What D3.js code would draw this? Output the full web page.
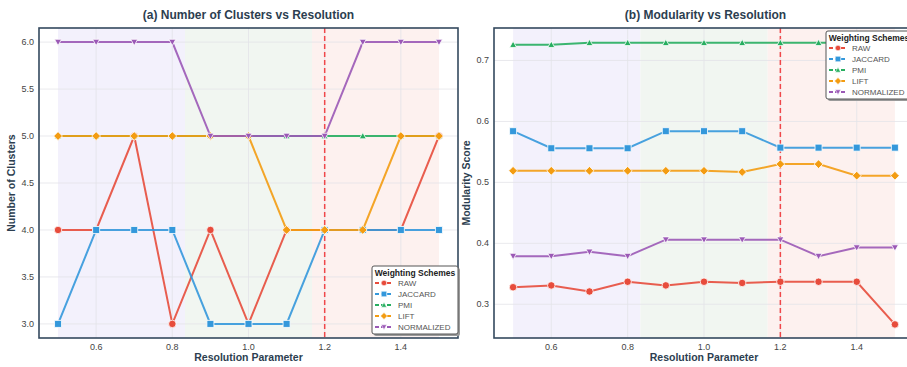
<!DOCTYPE html>
<html>
<head>
<meta charset="utf-8">
<script src="https://cdn.jsdelivr.net/npm/d3@7"></script>
<style>
  body { margin: 0; background: #fff; }
  svg { display: block; font-family: "Liberation Sans", Arial, sans-serif; }
</style>
</head>
<body>
<svg id="chart" width="907" height="367"></svg>
<script>
const resolution = [0.5, 0.6, 0.7, 0.8, 0.9, 1.0, 1.1, 1.2, 1.3, 1.4, 1.5];
const schemes = ["RAW", "JACCARD", "PMI", "LIFT", "NORMALIZED"];
const colors = ["#e74c3c", "#3498db", "#27ae60", "#f39c12", "#9b59b6"];
const markers = ["circle", "square", "triUp", "diamond", "triDown"];

const clusters = {
  RAW:        [4, 4, 5, 3, 4, 3, 4, 4, 4, 4, 5],
  JACCARD:    [3, 4, 4, 4, 3, 3, 3, 4, 4, 4, 4],
  PMI:        [5, 5, 5, 5, 5, 5, 5, 5, 5, 5, 5],
  LIFT:       [5, 5, 5, 5, 5, 5, 4, 4, 4, 5, 5],
  NORMALIZED: [6, 6, 6, 6, 5, 5, 5, 5, 6, 6, 6]
};
const modularity = {
  RAW:        [0.328, 0.331, 0.321, 0.337, 0.331, 0.337, 0.335, 0.337, 0.337, 0.337, 0.267],
  JACCARD:    [0.584, 0.556, 0.556, 0.556, 0.584, 0.584, 0.584, 0.557, 0.557, 0.557, 0.557],
  PMI:        [0.726, 0.726, 0.729, 0.729, 0.729, 0.729, 0.729, 0.729, 0.729, 0.729, 0.729],
  LIFT:       [0.519, 0.519, 0.519, 0.519, 0.519, 0.519, 0.517, 0.530, 0.530, 0.511, 0.511],
  NORMALIZED: [0.379, 0.379, 0.386, 0.379, 0.406, 0.406, 0.406, 0.406, 0.379, 0.393, 0.393]
};
const bands = [[0.5, 0.8333, "#f3f1fc"], [0.8333, 1.1667, "#f1f6f1"], [1.1667, 1.5, "#fdf1ef"]];
const optimal = 1.2;
const xTicks = [0.6, 0.8, 1.0, 1.2, 1.4];

const svg = d3.select("#chart");
const dark = "#2c3e50";

function markerPath(type, s) {
  const r = s / 2;
  if (type === "circle") return d3.symbol(d3.symbolCircle, Math.PI * r * r)();
  if (type === "square") return `M${-r},${-r}H${r}V${r}H${-r}Z`;
  if (type === "diamond") { const q = r * 1.25; return `M0,${-q}L${q},0L0,${q}L${-q},0Z`; }
  if (type === "triUp") return `M0,${-r}L${r},${r * 0.8}L${-r},${r * 0.8}Z`;
  return `M0,${r}L${r},${-r * 0.8}L${-r},${-r * 0.8}Z`;
}

function panel(opts) {
  const { left, right, top, bottom, data, yDomain, yTicks, yFmt, title, ylab, legend } = opts;
  const x = d3.scaleLinear().domain([0.45, 1.55]).range([left, right]);
  const y = d3.scaleLinear().domain(yDomain).range([bottom, top]);
  const g = svg.append("g");

  bands.forEach(b => {
    g.append("rect").attr("x", x(b[0])).attr("y", top).attr("width", x(b[1]) - x(b[0]))
      .attr("height", bottom - top).attr("fill", b[2]);
  });

  // grid
  g.append("g").selectAll("line").data(xTicks).join("line")
    .attr("x1", d => x(d)).attr("x2", d => x(d)).attr("y1", top).attr("y2", bottom)
    .attr("stroke", "#e3e3e8").attr("stroke-width", 0.8);
  g.append("g").selectAll("line").data(yTicks).join("line")
    .attr("x1", left).attr("x2", right).attr("y1", d => y(d)).attr("y2", d => y(d))
    .attr("stroke", "#e3e3e8").attr("stroke-width", 0.8);

  g.append("line").attr("x1", x(optimal)).attr("x2", x(optimal)).attr("y1", top).attr("y2", bottom)
    .attr("stroke", "#f0474a").attr("stroke-width", 1.5).attr("stroke-dasharray", "5,3");

  const line = d3.line().x((d, i) => x(resolution[i])).y(d => y(d));
  schemes.forEach((s, k) => {
    g.append("path").datum(data[s]).attr("d", line).attr("fill", "none")
      .attr("stroke", colors[k]).attr("stroke-width", 2).attr("stroke-opacity", 0.9);
    g.append("g").selectAll("path").data(data[s]).join("path")
      .attr("transform", (d, i) => `translate(${x(resolution[i])},${y(d)})`)
      .attr("d", markerPath(markers[k], markers[k] === "circle" ? 7.5 : 7))
      .attr("fill", colors[k]).attr("stroke", "#fff").attr("stroke-width", 0.8);
  });

  // frame
  g.append("rect").attr("x", left).attr("y", top).attr("width", right - left).attr("height", bottom - top)
    .attr("fill", "none").attr("stroke", "#34495e").attr("stroke-width", 1.6);

  // axes text
  g.append("g").selectAll("text").data(xTicks).join("text")
    .attr("x", d => x(d)).attr("y", bottom + 11.5).attr("text-anchor", "middle")
    .attr("font-size", 9).attr("fill", "#444").text(d => d.toFixed(1));
  g.append("g").selectAll("text").data(yTicks).join("text")
    .attr("x", left - 5).attr("y", d => y(d) + 3).attr("text-anchor", "end")
    .attr("font-size", 9).attr("fill", "#444").text(yFmt);

  g.append("text").attr("x", (left + Math.min(right, 907)) / 2 + (right > 907 ? 5 : 0)).attr("y", 19)
    .attr("text-anchor", "middle").attr("font-size", 12).attr("font-weight", "bold")
    .attr("fill", dark).text(title);
  g.append("text").attr("x", x(1.0)).attr("y", 361).attr("text-anchor", "middle")
    .attr("font-size", 10.5).attr("font-weight", "bold").attr("fill", dark).text("Resolution Parameter");
  g.append("text").attr("transform", `translate(${left - 24},${(top + bottom) / 2}) rotate(-90)`)
    .attr("text-anchor", "middle").attr("font-size", 10.5).attr("font-weight", "bold")
    .attr("fill", dark).text(ylab);

  // legend
  const lg = g.append("g").attr("transform", `translate(${legend.x},${legend.y})`);
  lg.append("rect").attr("x", 2).attr("y", 2).attr("width", 86).attr("height", 68).attr("rx", 2)
    .attr("fill", "#9a9a9a");
  lg.append("rect").attr("width", 86).attr("height", 68).attr("rx", 2)
    .attr("fill", "#fff").attr("stroke", "#555").attr("stroke-width", 1);
  lg.append("text").attr("x", 43).attr("y", 10).attr("text-anchor", "middle")
    .attr("font-size", 8.5).attr("font-weight", "bold").attr("fill", "#222").text("Weighting Schemes");
  schemes.forEach((s, k) => {
    const yy = 17 + k * 11;
    lg.append("line").attr("x1", 3).attr("x2", 21).attr("y1", yy).attr("y2", yy)
      .attr("stroke", colors[k]).attr("stroke-width", 1.8).attr("stroke-dasharray", "4,2");
    lg.append("path").attr("transform", `translate(12,${yy})`).attr("d", markerPath(markers[k], 5.5))
      .attr("fill", colors[k]).attr("stroke", "#fff").attr("stroke-width", 0.6);
    lg.append("text").attr("x", 26).attr("y", yy + 3).attr("font-size", 8).attr("fill", "#555").text(s);
  });
}

panel({
  left: 39, right: 458, top: 28, bottom: 338,
  data: clusters, yDomain: [2.85, 6.15], yTicks: [3.0, 3.5, 4.0, 4.5, 5.0, 5.5, 6.0],
  yFmt: d => d.toFixed(1), title: "(a) Number of Clusters vs Resolution", ylab: "Number of Clusters",
  legend: { x: 372, y: 266 }
});
panel({
  left: 494, right: 914, top: 28, bottom: 338,
  data: modularity, yDomain: [0.2447, 0.7533], yTicks: [0.3, 0.4, 0.5, 0.6, 0.7],
  yFmt: d => d.toFixed(1), title: "(b) Modularity vs Resolution", ylab: "Modularity Score",
  legend: { x: 826, y: 31 }
});
</script>
</body>
</html>
